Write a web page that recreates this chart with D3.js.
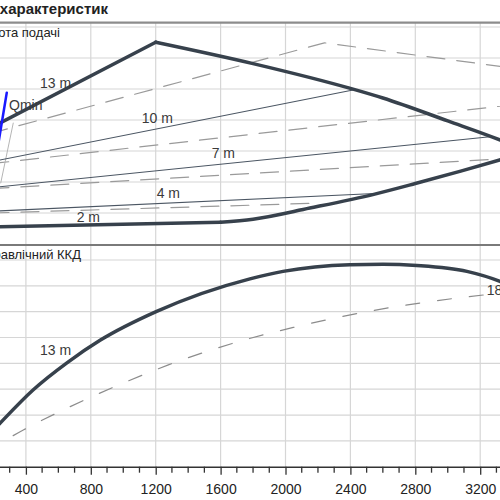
<html>
  <head>
    <meta charset="utf-8">
    <title>Криві характеристик</title>
  </head>
<style>
  body { margin: 0; background: #fff; }
  text { font-family: "Liberation Sans", Arial, sans-serif; }
</style>
  <body>
    <script src="https://d3js.org/d3.v7.min.js" charset="utf-8"></script>
    <script>

    // flow values on the x axis (m3/h), cropped chart
    var qTicks = [400, 800, 1200, 1600, 2000, 2400, 2800, 3200];
    var qMinor = d3.range(0, 3400, 100).filter(function(d){ return d % 400 != 0; });

    // top panel: head (grid units)
    var headMaxLeft  = [[0,3.25],[1200,6.51]];
    var headMaxRight = [[1200,6.51],[1800,5.82],[2400,5.02],[2600,4.71],[3000,3.97],[3320,3.36],[3450,3.08]];
    var headMinLeft  = [[0,0.53],[1600,0.70]];
    var headMinRight = [[1600,0.70],[1800,0.80],[2150,1.16],[2550,1.61],[2800,1.95],[3080,2.35],[3320,2.71],[3450,2.91]];
    var head10 = [[0,2.46],[2416,4.97]];
    var head7  = [[0,1.72],[3260,3.46]];
    var head4  = [[0,1.01],[2552,1.63]];
    var dashEnvelope = [[0,3.31],[2240,6.49],[3450,5.64]];
    var dashA = [[0,2.48],[3400,4.49]];
    var dashB = [[0,1.73],[3340,2.75]];
    var dashC = [[0,0.97],[2151,1.31]];
    var qminLine = [[232,3.30],[282,4.88]];
    var qminGray = [[245,1.97],[322,3.90]];

    // bottom panel: hydraulic efficiency (grid units)
    var eff13 = [[178,1.27],[240,1.68],[444,2.97],[653,4.02],[857,4.89],[1206,6.01],[1781,7.27],[1985,7.56],
                 [2397,7.82],[2601,7.84],[2810,7.79],[3118,7.56],[3322,7.17],[3400,6.95]];
    var eff18 = [[150,0.59],[240,0.91],[384,1.42],[651,2.26],[990,3.21],[1278,3.94],[1699,4.82],[2048,5.39],
                 [2459,5.95],[2901,6.40],[3240,6.66]];

    // label anchors in data units
    var topLabels = [{t:"13 m", q:487, v:5.03}, {t:"Qmin", q:296, v:4.32}, {t:"10 m", q:1114, v:3.90},
                     {t:"7 m", q:1545, v:2.77}, {t:"4 m", q:1206, v:1.48}, {t:"2 m", q:713, v:0.71}];
    var bottomLabels = [{t:"13 m", q:487, v:4.33}, {t:"18 m", q:3240, v:6.66}];

    var width = 500,
        height = 500;

    var svg = d3.select("body")
                .append("svg")
                .attr("width", width)
                .attr("height", height);

    var x = d3.scaleLinear().domain([0, 3322]).range([-39, 500]);
    var yTop = d3.scaleLinear().domain([0, 7]).range([244, 27]);
    var yBot = d3.scaleLinear().domain([0, 8]).range([466.7, 260]);

    // grid
    var grid = svg.append("g").attr("stroke", "#d6d6d6").attr("stroke-width", 1.2);
    grid.selectAll(".v").data([0].concat(qTicks)).enter().append("line")
        .attr("x1", function(d){ return x(d); }).attr("x2", function(d){ return x(d); })
        .attr("y1", 23).attr("y2", yBot(0));
    grid.selectAll(".ht").data(d3.range(1, 8)).enter().append("line")
        .attr("x1", 0).attr("x2", width)
        .attr("y1", function(d){ return yTop(d); }).attr("y2", function(d){ return yTop(d); });
    grid.selectAll(".hb").data(d3.range(1, 9)).enter().append("line")
        .attr("x1", 0).attr("x2", width)
        .attr("y1", function(d){ return yBot(d); }).attr("y2", function(d){ return yBot(d); });

    // panel separators
    svg.append("line").attr("x1", 0).attr("x2", width).attr("y1", 22.7).attr("y2", 22.7)
       .attr("stroke", "#8c8c8c").attr("stroke-width", 2.2);
    svg.append("line").attr("x1", 0).attr("x2", width).attr("y1", 245).attr("y2", 245)
       .attr("stroke", "#7a7a7a").attr("stroke-width", 2);

    // headings (the chart is cropped on the left, as in the reference)
    svg.append("text").attr("x", 108).attr("y", 14).attr("text-anchor", "end")
       .attr("font-size", 15).attr("font-weight", "bold").attr("fill", "#222")
       .text("Криві характеристик");
    svg.append("text").attr("x", 60).attr("y", 36.5).attr("text-anchor", "end")
       .attr("font-size", 13).attr("fill", "#222").text("Висота подачі");
    svg.append("text").attr("x", 81).attr("y", 258.5).attr("text-anchor", "end")
       .attr("font-size", 13).attr("fill", "#222").text("Гідравлічний ККД");

    var lineTop = d3.line().x(function(d){ return x(d[0]); }).y(function(d){ return yTop(d[1]); });
    var curveTop = d3.line().curve(d3.curveMonotoneX)
                     .x(function(d){ return x(d[0]); }).y(function(d){ return yTop(d[1]); });
    var curveBot = d3.line().curve(d3.curveMonotoneX)
                     .x(function(d){ return x(d[0]); }).y(function(d){ return yBot(d[1]); });

    function path(data, gen, color, w, dash) {
      svg.append("path").datum(data).attr("d", gen)
         .attr("fill", "none").attr("stroke", color).attr("stroke-width", w)
         .attr("stroke-linejoin", "round").attr("stroke-linecap", "round")
         .attr("stroke-dasharray", dash || null);
    }

    // dashed family
    [dashEnvelope, dashA, dashB, dashC].forEach(function(d){
      path(d, lineTop, "#9a9a9a", 1.2, "18,12");
    });
    path(qminGray, lineTop, "#b5b5b5", 1);

    // thin head lines
    [head10, head7, head4].forEach(function(d){
      path(d, lineTop, "#4b5663", 1.1);
    });

    // thick envelope
    path(headMaxLeft, lineTop, "#37414c", 3.5);
    path(headMaxRight, curveTop, "#37414c", 3.5);
    path(headMinLeft, lineTop, "#37414c", 3.5);
    path(headMinRight, curveTop, "#37414c", 3.5);

    // Qmin
    path(qminLine, lineTop, "#1a1aff", 2.5);

    svg.selectAll(".tl").data(topLabels).enter().append("text")
       .attr("x", function(d){ return x(d.q); }).attr("y", function(d){ return yTop(d.v); })
       .attr("font-size", 14).attr("fill", "#3a3a3a")
       .text(function(d){ return d.t; });

    // efficiency
    path(eff18, curveBot, "#8c8c8c", 1.2, "14,18");
    path(eff13, curveBot, "#37414c", 3.5);

    svg.selectAll(".bl").data(bottomLabels).enter().append("text")
       .attr("x", function(d){ return x(d.q); }).attr("y", function(d){ return yBot(d.v); })
       .attr("font-size", 14).attr("fill", "#3a3a3a")
       .text(function(d){ return d.t; });

    // x axis
    var axis = svg.append("g").attr("transform", "translate(0," + yBot(0) + ")")
       .call(d3.axisBottom(x).tickValues(qTicks).tickFormat(d3.format("d"))
               .tickSize(8).tickPadding(9).tickSizeOuter(0));
    axis.select(".domain").attr("stroke", "#333").attr("stroke-width", 1.5);
    axis.selectAll(".tick line").attr("stroke", "#333").attr("stroke-width", 1.3);
    axis.selectAll("text").attr("font-size", 14).attr("fill", "#222")
        .attr("font-family", "Liberation Sans, Arial, sans-serif");

    svg.append("g").attr("transform", "translate(0," + yBot(0) + ")")
       .selectAll("line").data(qMinor).enter().append("line")
       .attr("x1", function(d){ return x(d); }).attr("x2", function(d){ return x(d); })
       .attr("y1", 0).attr("y2", 6)
       .attr("stroke", "#333").attr("stroke-width", 1.3);

    </script>
  </body>
</html>
